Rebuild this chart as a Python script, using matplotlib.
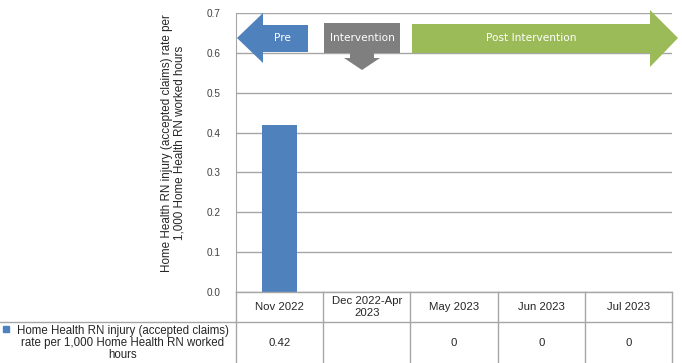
import matplotlib
matplotlib.use("Agg")
import matplotlib.pyplot as plt
from matplotlib.patches import Polygon, Rectangle
from matplotlib.lines import Line2D
import numpy as np

plt.rcParams['font.family'] = ['Liberation Sans', 'DejaVu Sans']

# datos
periodos = ['Nov 2022', 'Dec 2022-Apr\n2023', 'May 2023', 'Jun 2023', 'Jul 2023']
tasas = [0.42, np.nan, 0, 0, 0]
tasas_txt = ['0.42', '', '0', '0', '0']
serie = 'Home Health RN injury (accepted claims)\nrate per 1,000 Home Health RN worked\nhours'
ylabel = 'Home Health RN injury (accepted claims) rate per\n1,000 Home Health RN worked hours'
fases = ['Pre', 'Intervention', 'Post Intervention']

AZUL = '#4F81BD'
GRIS = '#7F7F7F'
VERDE = '#9BBB59'
LINEA = '#A6A6A6'

W, H = 682, 363
fig = plt.figure(figsize=(W / 100, H / 100), dpi=100, facecolor='white')

def fx(px):
    return px / W

def fy(py):
    return 1 - py / H

# ejes principales (en pixeles)
x0, x1, ytop, ybot = 236, 672, 13, 292
ax = fig.add_axes([fx(x0), fy(ybot), fx(x1) - fx(x0), fy(ytop) - fy(ybot)])
ax.bar(range(len(periodos)), tasas, width=0.4, color=AZUL, zorder=3)
ax.set_xlim(-0.5, len(periodos) - 0.5)
ax.set_ylim(0, 0.7)
ax.set_yticks(np.arange(0, 0.71, 0.1))
ax.set_yticklabels([f'{v:.1f}' for v in np.arange(0, 0.71, 0.1)])
ax.tick_params(axis='y', length=0, pad=11, labelsize=7.2, labelcolor='#404040')
ax.set_xticks([])
ax.grid(axis='y', color=LINEA, linewidth=1, zorder=0)
for s in ['top', 'right', 'bottom']:
    ax.spines[s].set_visible(False)
ax.spines['left'].set_color(LINEA)

fig.text(fx(173), fy(143), ylabel, rotation=90, ha='center', va='center',
         multialignment='center', fontsize=8.4, linespacing=1.1, color='#262626')

# tabla de datos
ncol = len(periodos)
ancho = (x1 - x0) / ncol
lineas = [((x0, x1), (292, 292)), ((0, x1), (322, 322))]
for i in range(ncol + 1):
    xc = x0 + i * ancho
    lineas.append(((xc, xc), (292, 363)))
for (xs, ys) in lineas:
    fig.add_artist(Line2D([fx(v) for v in xs], [fy(v) for v in ys],
                          color=LINEA, linewidth=1, transform=fig.transFigure))
for i, (p, t) in enumerate(zip(periodos, tasas_txt)):
    xc = x0 + (i + 0.5) * ancho
    fig.text(fx(xc), fy(307), p, ha='center', va='center', fontsize=8.2,
             multialignment='center', linespacing=1.2, color='#262626')
    fig.text(fx(xc), fy(343), t, ha='center', va='center', fontsize=8.2, color='#262626')

fig.add_artist(Rectangle((fx(3), fy(332)), fx(6), fy(326) - fy(332), color=AZUL,
                         transform=fig.transFigure))
fig.text(fx(123), fy(343), serie, ha='center', va='center', fontsize=8.3,
         multialignment='center', linespacing=1.0, color='#262626')

# flechas de fases
def poly(pts, color):
    fig.add_artist(Polygon([(fx(a), fy(b)) for a, b in pts], closed=True,
                           facecolor=color, edgecolor='none', transform=fig.transFigure,
                           zorder=5))

poly([(237, 38), (263, 13), (263, 25), (308, 25), (308, 52), (263, 52), (263, 63)], AZUL)
poly([(324, 23), (400, 23), (400, 53), (374, 53), (374, 58), (380, 58), (362, 70),
      (344, 58), (350, 58), (350, 53), (324, 53)], GRIS)
poly([(412, 24), (650, 24), (650, 10), (678, 38), (650, 67), (650, 53), (412, 53)], VERDE)

for xc, txt in zip([282, 362, 531], fases):
    fig.text(fx(xc), fy(38), txt, ha='center', va='center', fontsize=7.6,
             color='white', family='DejaVu Sans', zorder=6)

plt.savefig('out.png', dpi=100, facecolor='white')
